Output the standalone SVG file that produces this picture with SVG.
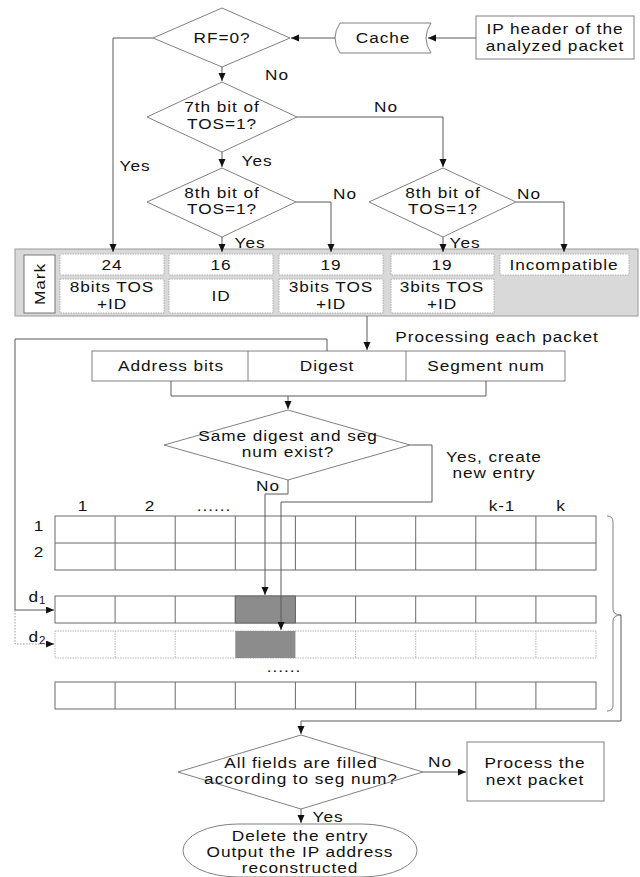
<svg xmlns="http://www.w3.org/2000/svg" width="640" height="877" viewBox="0 0 640 877">
<style>
text{font-family:"Liberation Sans",Arial,sans-serif;font-size:15px;fill:#111;letter-spacing:0.8px;text-anchor:middle;transform-box:fill-box;transform-origin:center;transform:scaleX(1.15)}
.shape{fill:#fff;stroke:#808080;stroke-width:1}
.conn{fill:none;stroke:#5a5a5a;stroke-width:1}
.dot{fill:none;stroke:#999;stroke-width:1;stroke-dasharray:1.5 1.5}
.cell{fill:#fff;stroke:#b0b0b0;stroke-width:1;stroke-dasharray:1.5 1}
.grid{fill:#fff;stroke:#6a6a6a;stroke-width:1}
.gridd{fill:#fff;stroke:#b5b5b5;stroke-width:1;stroke-dasharray:1.5 1}
.hl{fill:#8c8c8c}
.sub{font-size:10px;letter-spacing:0}
</style>
<defs>
<marker id="arr" markerUnits="userSpaceOnUse" markerWidth="9" markerHeight="8" refX="8" refY="3.5" orient="auto">
<path d="M0,0 L8,3.5 L0,7 z" fill="#111"/>
</marker>
</defs>
<rect width="640" height="877" fill="#fff"/>

<!-- Mark panel -->
<g id="mark-panel">
<rect x="15" y="249" width="623" height="67" fill="#d9d9d9" stroke="#9a9a9a"/>
<rect x="24" y="255" width="31" height="58" fill="#fff" stroke="#777"/>
<g transform="translate(45,284) rotate(-90)"><text x="0" y="0">Mark</text></g>
<rect class="cell" x="60" y="254" width="104" height="21"/>
<rect class="cell" x="169" y="254" width="104" height="21"/>
<rect class="cell" x="279" y="254" width="104" height="21"/>
<rect class="cell" x="391" y="254" width="103" height="21"/>
<rect class="cell" x="500" y="254" width="129" height="21"/>
<rect class="cell" x="60" y="279" width="104" height="34"/>
<rect class="cell" x="169" y="279" width="104" height="34"/>
<rect class="cell" x="279" y="279" width="104" height="34"/>
<rect class="cell" x="391" y="279" width="103" height="34"/>
<text x="112" y="270">24</text>
<text x="221" y="270">16</text>
<text x="331" y="270">19</text>
<text x="442" y="270">19</text>
<text x="564" y="270">Incompatible</text>
<text x="112" y="292">8bits TOS</text>
<text x="112" y="309">+ID</text>
<text x="221" y="301">ID</text>
<text x="331" y="292">3bits TOS</text>
<text x="331" y="309">+ID</text>
<text x="442" y="292">3bits TOS</text>
<text x="442" y="309">+ID</text>
</g>

<!-- Nodes -->
<g id="rf">
<polygon class="shape" points="222,8 290,38 222,67 153,38"/>
<text x="222" y="43">RF=0?</text>
</g>
<g id="cache">
<path class="shape" d="M340,23 H431 Q421,38 431,53 H340 Q330,38 340,23 Z"/>
<text x="383" y="43">Cache</text>
</g>
<g id="ipheader">
<rect class="shape" x="476" y="16" width="158" height="43"/>
<text x="555" y="34">IP header of the</text>
<text x="555" y="51">analyzed packet</text>
</g>
<g id="tos7">
<polygon class="shape" points="222,82 297,117 222,152 147,117"/>
<text x="222" y="112">7th bit of</text>
<text x="222" y="129">TOS=1?</text>
</g>
<g id="tos8a">
<polygon class="shape" points="222,168 296,202 222,237 147,202"/>
<text x="222" y="198">8th bit of</text>
<text x="222" y="214">TOS=1?</text>
</g>
<g id="tos8b">
<polygon class="shape" points="443,168 516,202 443,237 369,202"/>
<text x="443" y="198">8th bit of</text>
<text x="443" y="214">TOS=1?</text>
</g>
<g id="record">
<rect class="shape" x="92" y="351" width="473" height="30"/>
<line class="shape" x1="248" y1="351" x2="248" y2="381"/>
<line class="shape" x1="406" y1="351" x2="406" y2="381"/>
<text x="171" y="371">Address bits</text>
<text x="327" y="371">Digest</text>
<text x="486" y="371">Segment num</text>
</g>
<g id="same">
<polygon class="shape" points="288,410 410,445 288,480 164,445"/>
<text x="288" y="441">Same digest and seg</text>
<text x="288" y="457">num exist?</text>
</g>
<g id="table">
<text x="83" y="511">1</text>
<text x="150" y="511">2</text>
<text x="214" y="511">......</text>
<text x="502" y="511">k-1</text>
<text x="561" y="511">k</text>
<text x="39" y="531">1</text>
<text x="39" y="557">2</text>
<text x="37" y="602">d<tspan class="sub" dy="2">1</tspan></text>
<text x="37" y="642">d<tspan class="sub" dy="2">2</tspan></text>
<text x="284" y="672">......</text>
<rect class="grid" x="55" y="516" width="541" height="54"/>
<line class="grid" x1="55" y1="543" x2="596" y2="543"/>
<path class="grid" fill="none" d="M115.1,516V570M175.2,516V570M235.3,516V570M295.4,516V570M355.6,516V570M415.7,516V570M475.8,516V570M535.9,516V570"/>
<rect class="grid" x="55" y="596" width="541" height="27"/>
<rect class="hl" x="235.3" y="596" width="60.1" height="27"/>
<path class="grid" fill="none" d="M115.1,596V623M175.2,596V623M235.3,596V623M295.4,596V623M355.6,596V623M415.7,596V623M475.8,596V623M535.9,596V623"/>
<rect x="235.3" y="596" width="60.1" height="27" fill="none" stroke="#6a6a6a"/>
<rect class="gridd" x="55" y="631" width="541" height="27"/>
<rect class="hl" x="235.3" y="631" width="60.1" height="27"/>
<path class="gridd" fill="none" d="M115.1,631V658M175.2,631V658M355.6,631V658M415.7,631V658M475.8,631V658M535.9,631V658"/>
<rect class="grid" x="55" y="682" width="541" height="27"/>
<path class="grid" fill="none" d="M115.1,682V709M175.2,682V709M235.3,682V709M295.4,682V709M355.6,682V709M415.7,682V709M475.8,682V709M535.9,682V709"/>
<path fill="none" stroke="#808080" d="M607,516 Q613,516 613,522 V609 Q613,615 621,615 Q613,615 613,621 V705 Q613,711 607,711"/>
</g>
<g id="allfilled">
<polygon class="shape" points="301,735 423,772 301,809 178,772"/>
<text x="301" y="768">All fields are filled</text>
<text x="301" y="784">according to seg num?</text>
</g>
<g id="nextpacket">
<rect class="shape" x="467" y="742" width="137" height="59"/>
<text x="535" y="768">Process the</text>
<text x="535" y="785">next packet</text>
</g>
<g id="output">
<rect class="shape" x="183" y="824" width="234" height="53" rx="55" ry="26.5"/>
<text x="300" y="841">Delete the entry</text>
<text x="300" y="857">Output the IP address</text>
<text x="300" y="873">reconstructed</text>
</g>

<!-- Connectors -->
<g id="connectors">
<path class="conn" d="M476,38 H428" marker-end="url(#arr)"/>
<path class="conn" d="M335,38 H291" marker-end="url(#arr)"/>
<path class="conn" d="M222,67 V81" marker-end="url(#arr)"/>
<path class="conn" d="M153,38 H113 V252" marker-end="url(#arr)"/>
<path class="conn" d="M297,117 H443 V167" marker-end="url(#arr)"/>
<path class="conn" d="M222,152 V167" marker-end="url(#arr)"/>
<path class="conn" d="M296,202 H331 V252" marker-end="url(#arr)"/>
<path class="conn" d="M222,237 V252" marker-end="url(#arr)"/>
<path class="conn" d="M516,202 H564 V252" marker-end="url(#arr)"/>
<path class="conn" d="M443,237 V252" marker-end="url(#arr)"/>
<path class="conn" d="M367,316 V350" marker-end="url(#arr)"/>
<path class="conn" d="M327,351 V339 H15 V610 H54" marker-end="url(#arr)"/>
<path class="dot" d="M15,610 V644 H50"/>
<path class="conn" d="M48,644 H54" marker-end="url(#arr)"/>
<path class="conn" d="M171,381 V396 H486 V381"/>
<path class="conn" d="M288,396 V409" marker-end="url(#arr)"/>
<path class="conn" d="M288,480 V494 H265 V595" marker-end="url(#arr)"/>
<path class="conn" d="M410,445 H432 V502 H281 V630" marker-end="url(#arr)"/>
<path class="conn" d="M621,615 V721 H301 V734" marker-end="url(#arr)"/>
<path class="conn" d="M423,772 H466" marker-end="url(#arr)"/>
<path class="conn" d="M301,809 V823" marker-end="url(#arr)"/>
<text x="277" y="80">No</text>
<text x="135" y="171">Yes</text>
<text x="386" y="112">No</text>
<text x="257" y="166">Yes</text>
<text x="345" y="199">No</text>
<text x="250" y="248">Yes</text>
<text x="529" y="199">No</text>
<text x="465" y="248">Yes</text>
<text x="497" y="342">Processing each packet</text>
<text x="494" y="462">Yes, create</text>
<text x="494" y="478">new entry</text>
<text x="268" y="491">No</text>
<text x="440" y="767">No</text>
<text x="328" y="822">Yes</text>
</g>
</svg>
